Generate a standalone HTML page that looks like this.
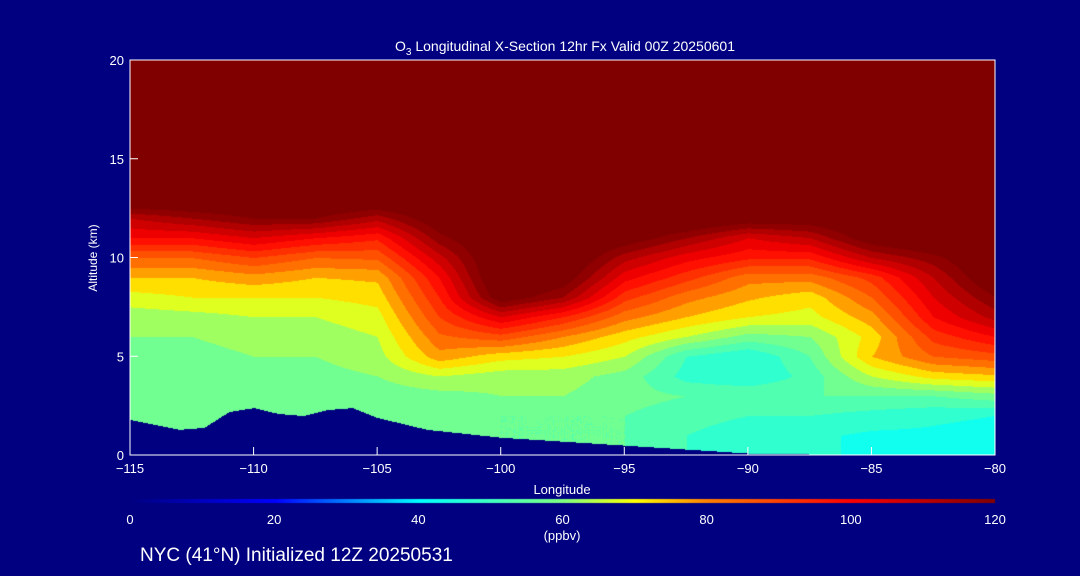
<!DOCTYPE html>
<html><head><meta charset="utf-8">
<style>
html,body{margin:0;padding:0;background:#000080;}
#wrap{position:relative;width:1080px;height:576px;background:#000080;overflow:hidden;font-family:"Liberation Sans",sans-serif;color:#fff;}
</style></head>
<body>
<div id="wrap">
<canvas id="cv" width="1080" height="576" style="position:absolute;left:0;top:0"></canvas>
<svg id="sv" width="1080" height="576" style="position:absolute;left:0;top:0"></svg>
</div>
<script>
const lons=[-115,-112.5,-110,-107.5,-105,-102.5,-100,-97.5,-95,-92.5,-90,-87.5,-85,-82.5,-80];
const alts=[0,1,2,3,4,5,6,7,8,9,10,11,12,13,14,15,16,17,18,19,20];
const ozone=[
[58,58,57,57,56,56,55,55,55,50,47,46,44,44,43],
[58,58,57,57,56,56,55,55,55,50,47,46,44,44,43],
[58,58,57,57,56,56,55,55,55,52,50,50,48,46,45],
[58,57,57,57,57,58,60,60,57,55,55,55,55,55,58],
[57,57,58,58,60,65,62,62,58,48,45,52,65,72,74],
[58,58,60,60,63,78,72,70,65,50,45,55,75,85,88],
[60,60,62,62,65,84,88,80,72,65,58,60,72,92,100],
[62,63,65,65,68,90,105,95,82,75,70,68,78,100,112],
[68,70,70,70,72,95,125,115,92,82,76,72,85,105,120],
[75,75,78,75,76,100,130,125,102,92,82,82,92,110,128],
[85,85,90,85,86,108,130,130,112,102,96,96,110,118,130],
[100,100,105,100,96,118,130,130,125,115,105,110,125,130,130],
[110,115,120,120,112,126,130,130,130,130,125,125,130,130,130],
[130,130,130,130,130,130,130,130,130,130,130,130,130,130,130],
[130,130,130,130,130,130,130,130,130,130,130,130,130,130,130],
[130,130,130,130,130,130,130,130,130,130,130,130,130,130,130],
[130,130,130,130,130,130,130,130,130,130,130,130,130,130,130],
[130,130,130,130,130,130,130,130,130,130,130,130,130,130,130],
[130,130,130,130,130,130,130,130,130,130,130,130,130,130,130],
[130,130,130,130,130,130,130,130,130,130,130,130,130,130,130],
[130,130,130,130,130,130,130,130,130,130,130,130,130,130,130]];
const terrLon=[-115,-113,-112,-111,-110,-109,-108,-107,-106,-105,-103,-100,-95,-90,-85,-80];
const terrAlt=[1.8,1.3,1.4,2.2,2.4,2.1,2.0,2.3,2.4,1.9,1.3,0.9,0.5,0.1,0.0,0.0];
const cbTicks=[0,20,40,60,80,100,120];
const xTicks=[-115,-110,-105,-100,-95,-90,-85,-80];
const yTicks=[0,5,10,15,20];
const X0=130,X1=995,Y0=455,Y1=60;
const xs=l=>X0+(l+115)/35*(X1-X0);
const ys=a=>Y0-a/20*(Y0-Y1);
const stops=[[0,[0,0,128]],[20,[0,0,255]],[30,[0,128,255]],[40,[0,255,255]],[60,[128,255,128]],[70,[255,255,0]],[80,[255,128,0]],[100,[255,0,0]],[120,[128,0,0]]];
function cmap(v){v=Math.max(0,Math.min(120,v));for(let i=1;i<stops.length;i++){if(v<=stops[i][0]){const a=stops[i-1],b=stops[i],t=(v-a[0])/(b[0]-a[0]);return a[1].map((c,k)=>Math.round(c+(b[1][k]-c)*t));}}return stops[stops.length-1][1];}
function interp1(xa,ya,x){for(let i=1;i<xa.length;i++){if(x<=xa[i]){const t=(x-xa[i-1])/(xa[i]-xa[i-1]);return ya[i-1]+(ya[i]-ya[i-1])*t;}}return ya[ya.length-1];}
function field(lon,alt){let fi=(lon-lons[0])/2.5;fi=Math.max(0,Math.min(lons.length-1.001,fi));let fj=Math.max(0,Math.min(alts.length-1.001,alt));const i=Math.floor(fi),j=Math.floor(fj),u=fi-i,w=fj-j;
return ozone[j][i]*(1-u)*(1-w)+ozone[j][i+1]*u*(1-w)+ozone[j+1][i]*(1-u)*w+ozone[j+1][i+1]*u*w;}
const cv=document.getElementById('cv'),ctx=cv.getContext('2d');
const W=X1-X0,H=Y0-Y1,img=ctx.createImageData(W,H);
for(let py=0;py<H;py++){const alt=(Y0-(Y1+py))/(Y0-Y1)*20;for(let px=0;px<W;px++){const lon=-115+px/W*35;let c;
if(alt<interp1(terrLon,terrAlt,lon))c=[0,0,128];else{let v=field(lon,alt);v=Math.floor(v/5)*5+2.5;c=cmap(v);}
const k=(py*W+px)*4;img.data[k]=c[0];img.data[k+1]=c[1];img.data[k+2]=c[2];img.data[k+3]=255;}}
ctx.putImageData(img,X0,Y1);
for(let px=0;px<W;px++){const c=cmap(px/W*120);ctx.fillStyle=`rgb(${c[0]},${c[1]},${c[2]})`;ctx.fillRect(X0+px,499,1,4);}
const sv=document.getElementById('sv'),NS='http://www.w3.org/2000/svg';
function el(tag,attrs,txt){const e=document.createElementNS(NS,tag);for(const k in attrs)e.setAttribute(k,attrs[k]);if(txt!==undefined)e.textContent=txt;sv.appendChild(e);return e;}
const fr=el('rect',{x:X0,y:Y1,width:W,height:H,fill:'none',stroke:'#fff','stroke-width':1});

xTicks.forEach(v=>{const x=xs(v);el('line',{x1:x,x2:x,y1:Y0,y2:Y0-8,stroke:'#fff'});
const t=el('text',{x:x,y:Y0+18,fill:'#fff','font-size':13,'text-anchor':'middle','font-family':'Liberation Sans, sans-serif'},(v<0?'\u2212':'')+Math.abs(v));
});
yTicks.forEach(v=>{const y=ys(v);el('line',{x1:X0,x2:X0+8,y1:y,y2:y,stroke:'#fff'});
const t=el('text',{x:X0-6,y:y+5,fill:'#fff','font-size':13,'text-anchor':'end','font-family':'Liberation Sans, sans-serif'},String(v));
});
cbTicks.forEach(v=>{const x=X0+v/120*W;
const t=el('text',{x:x,y:524,fill:'#fff','font-size':13,'text-anchor':'middle','font-family':'Liberation Sans, sans-serif'},String(v));
});
let t;
t=el('text',{x:562,y:494,fill:'#fff','font-size':13,'text-anchor':'middle','font-family':'Liberation Sans, sans-serif'},'Longitude');

t=el('text',{x:0,y:0,fill:'#fff','font-size':12,'text-anchor':'middle','font-family':'Liberation Sans, sans-serif',transform:'translate(97,258) rotate(-90)'},'Altitude (km)');

t=el('text',{x:562,y:540,fill:'#fff','font-size':13,'text-anchor':'middle','font-family':'Liberation Sans, sans-serif'},'(ppbv)');

t=el('text',{x:565,y:51,fill:'#fff','font-size':14,'text-anchor':'middle','font-family':'Liberation Sans, sans-serif'});

t.innerHTML='O<tspan font-size="10" dy="4">3</tspan><tspan dy="-4"> Longitudinal X-Section 12hr  Fx Valid 00Z 20250601</tspan>';
t=el('text',{x:140,y:561,fill:'#fff','font-size':19,'font-family':'Liberation Sans, sans-serif'},'NYC (41°N) Initialized 12Z 20250531');

</script>
</body></html>
